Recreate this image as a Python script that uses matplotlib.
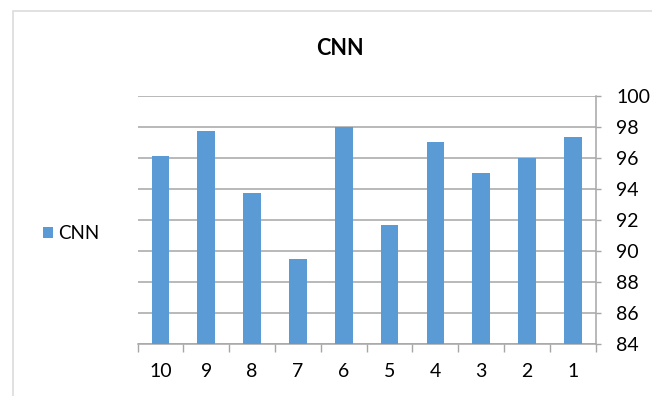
import matplotlib
matplotlib.use("Agg")
import matplotlib.pyplot as plt
from matplotlib.patches import Rectangle

plt.rcParams['font.family'] = ['Lato', 'DejaVu Sans']

# %% Data
runs = ["10", "9", "8", "7", "6", "5", "4", "3", "2", "1"]
cnn_accuracy = [96.1, 97.7, 93.7, 89.5, 98.0, 91.7, 97.0, 95.0, 96.0, 97.3]
y_ticks = [84, 86, 88, 90, 92, 94, 96, 98, 100]

bar_color = "#5b9bd5"
grid_color = "#a6a6a6"

# %% Figure
fig = plt.figure(figsize=(6.52, 3.96), dpi=100)
ax = fig.add_axes([0.2109, 0.1306, 0.7028, 0.6282])

x = list(range(len(runs)))
bars = ax.bar(x, cnn_accuracy, width=0.385, color=bar_color,
              linewidth=0, label="CNN", zorder=3)

ax.set_ylim(84, 100)
ax.set_xlim(-0.5, len(runs) - 0.5)
ax.set_yticks(y_ticks)
ax.yaxis.tick_right()
ax.grid(axis="y", color=grid_color, linewidth=1.1, zorder=0)

# category boundaries get the x ticks, labels sit in the middle
ax.set_xticks([i - 0.5 for i in range(len(runs) + 1)])
ax.set_xticklabels([])
ax.set_xticks(x, minor=True)
ax.set_xticklabels(runs, minor=True)
ax.tick_params(axis="x", which="major", length=5.5, width=1.0,
               color=grid_color, direction="out")
ax.tick_params(axis="x", which="minor", length=0, pad=13.5, labelsize=14)
ax.tick_params(axis="y", length=3.6, width=1.0, color=grid_color,
               pad=11, labelsize=14)

for side in ["top", "left"]:
    ax.spines[side].set_visible(False)
for side in ["bottom", "right"]:
    ax.spines[side].set_color(grid_color)
    ax.spines[side].set_linewidth(1.1)

fig.text(0.521, 1 - 55 / 396, "CNN", ha="center", va="baseline",
         fontsize=15.5, fontweight="bold")

fig.legend(handles=[bars], labels=["CNN"], loc="center left",
           bbox_to_anchor=(0.0655, 0.4104), frameon=False, fontsize=13.5,
           handlelength=0.57, handleheight=0.57, handletextpad=0.25,
           borderpad=0, borderaxespad=0)

# chart frame, only its top and left edges fall inside the image
fig.patches.append(Rectangle((13.5 / 652, -0.1), 1.2, 0.1 + 1 - 11 / 396,
                             transform=fig.transFigure, fill=False,
                             edgecolor="#d9d9d9", linewidth=1.1))

fig.savefig("out.png", dpi=100)
